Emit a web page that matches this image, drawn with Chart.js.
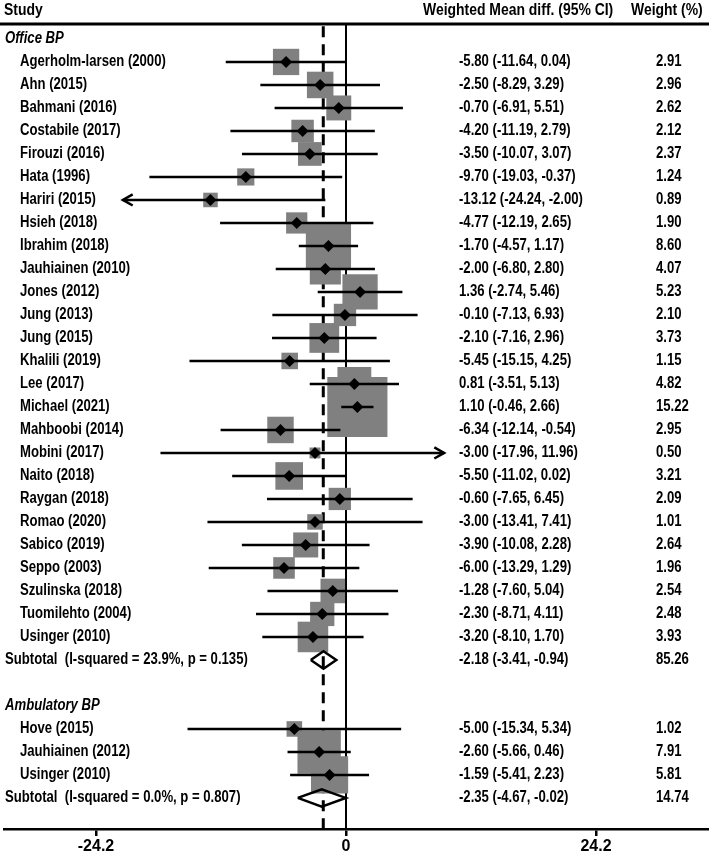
<!DOCTYPE html>
<html>
<head>
<meta charset="utf-8">
<script src="https://cdn.jsdelivr.net/npm/chart.js@4.4.0/dist/chart.umd.min.js"></script>
<style>
  html, body { margin: 0; padding: 0; background: #fff; }
  #forest { display: block; }
</style>
</head>
<body>
<canvas id="forest" width="709" height="852"></canvas>
<script>
// ---- data ----
const officeStudies = [
  "Agerholm-larsen (2000)", "Ahn (2015)", "Bahmani (2016)", "Costabile (2017)",
  "Firouzi (2016)", "Hata (1996)", "Hariri (2015)", "Hsieh (2018)", "Ibrahim (2018)",
  "Jauhiainen (2010)", "Jones (2012)", "Jung (2013)", "Jung (2015)", "Khalili (2019)",
  "Lee (2017)", "Michael (2021)", "Mahboobi (2014)", "Mobini (2017)", "Naito (2018)",
  "Raygan (2018)", "Romao (2020)", "Sabico (2019)", "Seppo (2003)", "Szulinska (2018)",
  "Tuomilehto (2004)", "Usinger (2010)"
];
const officeEst = [-5.80, -2.50, -0.70, -4.20, -3.50, -9.70, -13.12, -4.77, -1.70, -2.00, 1.36, -0.10, -2.10,
  -5.45, 0.81, 1.10, -6.34, -3.00, -5.50, -0.60, -3.00, -3.90, -6.00, -1.28, -2.30, -3.20];
const officeLow = [-11.64, -8.29, -6.91, -11.19, -10.07, -19.03, -24.24, -12.19, -4.57, -6.80, -2.74, -7.13, -7.16,
  -15.15, -3.51, -0.46, -12.14, -17.96, -11.02, -7.65, -13.41, -10.08, -13.29, -7.60, -8.71, -8.10];
const officeHigh = [0.04, 3.29, 5.51, 2.79, 3.07, -0.37, -2.00, 2.65, 1.17, 2.80, 5.46, 6.93, 2.96,
  4.25, 5.13, 2.66, -0.54, 11.96, 0.02, 6.45, 7.41, 2.28, 1.29, 5.04, 4.11, 1.70];
const officeWeight = [2.91, 2.96, 2.62, 2.12, 2.37, 1.24, 0.89, 1.90, 8.60, 4.07, 5.23, 2.10, 3.73,
  1.15, 4.82, 15.22, 2.95, 0.50, 3.21, 2.09, 1.01, 2.64, 1.96, 2.54, 2.48, 3.93];

const ambStudies = ["Hove (2015)", "Jauhiainen (2012)", "Usinger (2010)"];
const ambEst = [-5.00, -2.60, -1.59];
const ambLow = [-15.34, -5.66, -5.41];
const ambHigh = [5.34, 0.46, 2.23];
const ambWeight = [1.02, 7.91, 5.81];

const groupNames = ["Office BP", "Ambulatory BP"];
const subtotalLabels = ["Subtotal  (I-squared = 23.9%, p = 0.135)", "Subtotal  (I-squared = 0.0%, p = 0.807)"];
const subtotalEst = [-2.18, -2.35];
const subtotalLow = [-3.41, -4.67];
const subtotalHigh = [-0.94, -0.02];
const subtotalWeight = [85.26, 14.74];

const overallEst = -2.2;          // dashed reference line
const xTicks = [-24.2, 0, 24.2];
const ciClip = [-21.6, 9.5];      // CIs beyond this get an arrow

// ---- layout helpers ----
const ROW_PX = 23;
const Y_BOTTOM = 34.35;                  // row value at the axis line
const Y_TOP = Y_BOTTOM - 829 / ROW_PX;   // row value at canvas top
const HEAD_LINE = -0.65;
const PX_PER_UNIT = 250 / 24.2;
const X_MIN = -(346 - 4) / PX_PER_UNIT;
const X_MAX = X_MIN + 705 / PX_PER_UNIT;

// font: narrow bold if present, else squeeze Liberation Sans
const probe = document.createElement("canvas").getContext("2d");
probe.font = "bold 20px 'Liberation Sans Narrow', monospace";
const wNarrow = probe.measureText("Subtotal (I-squared)").width;
probe.font = "bold 20px monospace";
const hasNarrow = Math.abs(wNarrow - probe.measureText("Subtotal (I-squared)").width) > 1;
const FAMILY = hasNarrow ? "'Liberation Sans Narrow'" : "'Liberation Sans', Arial";

function drawText(ctx, str, x, y, size, italic) {
  ctx.save();
  ctx.fillStyle = "#000";
  ctx.textBaseline = "middle";
  ctx.textAlign = "left";
  ctx.font = (italic ? "italic " : "") + "bold " + size + "px " + FAMILY;
  if (hasNarrow) {
    ctx.fillText(str, x, y);
  } else {
    ctx.translate(x, y);
    ctx.scale(0.82, 1);
    ctx.fillText(str, 0, 0);
  }
  ctx.restore();
}

// ---- rows ----
const rows = [];
let r = 0;
function addGroup(g, names, est, low, high, wt) {
  rows.push({ kind: "head", label: groupNames[g], row: r++ });
  names.forEach((n, i) => rows.push({ kind: "study", label: n, est: est[i], lo: low[i], hi: high[i], w: wt[i], row: r++ }));
  rows.push({ kind: "sub", label: subtotalLabels[g], est: subtotalEst[g], lo: subtotalLow[g], hi: subtotalHigh[g], w: subtotalWeight[g], row: r++ });
}
addGroup(0, officeStudies, officeEst, officeLow, officeHigh, officeWeight);
r++; // blank row
addGroup(1, ambStudies, ambEst, ambLow, ambHigh, ambWeight);

const studyRows = rows.filter(d => d.kind === "study");
const subRows = rows.filter(d => d.kind === "sub");

// ---- datasets ----
const lineBase = { showLine: true, pointRadius: 0, borderColor: "#000", fill: false, borderWidth: 2.5 };
const datasets = [];

datasets.push({ ...lineBase, order: 10, borderWidth: 2,
  data: [{ x: 0, y: HEAD_LINE }, { x: 0, y: Y_BOTTOM }] });
datasets.push({ ...lineBase, order: 10, borderWidth: 3, borderDash: [11, 7],
  data: [{ x: overallEst, y: HEAD_LINE + 0.1 }, { x: overallEst, y: Y_BOTTOM }] });

datasets.push({
  order: 8,
  data: studyRows.map(d => ({ x: d.est, y: d.row })),
  pointStyle: "rect",
  pointRadius: ctx => 10.9 * Math.sqrt(studyRows[ctx.dataIndex].w),
  backgroundColor: "#808080",
  borderWidth: 0
});

studyRows.forEach(d => {
  const lo = Math.max(d.lo, ciClip[0]);
  const hi = Math.min(d.hi, ciClip[1]);
  datasets.push({ ...lineBase, order: 5, data: [{ x: lo, y: d.row }, { x: hi, y: d.row }] });
  if (d.lo < ciClip[0]) {
    datasets.push({ ...lineBase, order: 5, borderJoinStyle: "miter",
      data: [{ x: lo + 0.95, y: d.row - 0.24 }, { x: lo, y: d.row }, { x: lo + 0.95, y: d.row + 0.24 }] });
  }
  if (d.hi > ciClip[1]) {
    datasets.push({ ...lineBase, order: 5, borderJoinStyle: "miter",
      data: [{ x: hi - 0.95, y: d.row - 0.24 }, { x: hi, y: d.row }, { x: hi - 0.95, y: d.row + 0.24 }] });
  }
});

subRows.forEach(d => {
  datasets.push({ ...lineBase, order: 5, borderWidth: 2.5, borderJoinStyle: "miter",
    data: [{ x: d.lo, y: d.row }, { x: d.est, y: d.row - 0.38 }, { x: d.hi, y: d.row },
           { x: d.est, y: d.row + 0.38 }, { x: d.lo, y: d.row }] });
});

datasets.push({
  order: 1,
  data: studyRows.map(d => ({ x: d.est, y: d.row })),
  pointStyle: "rectRot",
  pointRadius: 6,
  backgroundColor: "#000",
  borderWidth: 0
});

// ---- text columns ----
const textPlugin = {
  id: "forestText",
  afterDraw(chart) {
    const ctx = chart.ctx;
    const ys = chart.scales.y;
    ctx.save();
    ctx.fillStyle = "#000";
    ctx.fillRect(0, ys.getPixelForValue(HEAD_LINE) - 1.5, chart.width, 3);
    ctx.restore();
    drawText(ctx, "Study", 4, 10, 17, false);
    drawText(ctx, "Weighted Mean diff. (95% CI)", 423, 10, 17, false);
    drawText(ctx, "Weight (%)", 631, 10, 17, false);
    rows.forEach(d => {
      const y = ys.getPixelForValue(d.row);
      if (d.kind === "head") {
        drawText(ctx, d.label, 5, y, 16, true);
        return;
      }
      drawText(ctx, d.label, d.kind === "study" ? 20 : 5, y, 16, false);
      drawText(ctx, d.est.toFixed(2) + " (" + d.lo.toFixed(2) + ", " + d.hi.toFixed(2) + ")", 459, y, 16, false);
      drawText(ctx, d.w.toFixed(2), 656, y, 16, false);
    });
  }
};

new Chart(document.getElementById("forest"), {
  type: "scatter",
  data: { datasets },
  options: {
    responsive: false,
    animation: false,
    events: [],
    layout: { autoPadding: false, padding: { left: 4, right: 0, top: 0, bottom: 0 } },
    plugins: { legend: { display: false }, tooltip: { enabled: false } },
    scales: {
      x: {
        type: "linear",
        min: X_MIN,
        max: X_MAX,
        afterBuildTicks: scale => { scale.ticks = xTicks.map(v => ({ value: v })); },
        afterFit: scale => { scale.height = 23; },
        border: { display: true, color: "#000", width: 2.5 },
        grid: { drawOnChartArea: false, drawTicks: true, tickLength: 7, color: "#000", lineWidth: 2.5 },
        ticks: {
          color: "#000",
          padding: 1,
          maxRotation: 0,
          autoSkip: false,
          font: { family: FAMILY, weight: "bold", size: 16 },
          callback: v => String(v)
        }
      },
      y: { type: "linear", display: false, reverse: true, min: Y_TOP, max: Y_BOTTOM }
    }
  },
  plugins: [textPlugin]
});
</script>
</body>
</html>
